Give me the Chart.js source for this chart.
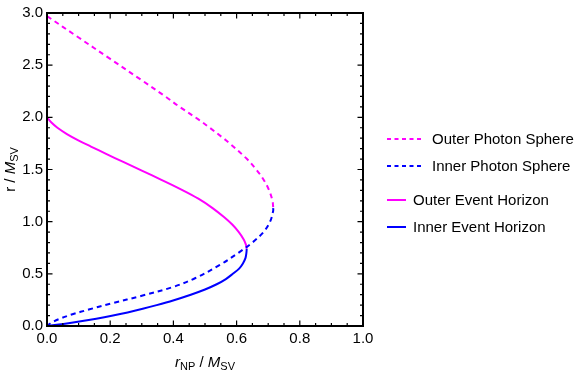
<!DOCTYPE html>
<html>
<head>
<meta charset="utf-8">
<script src="https://cdn.jsdelivr.net/npm/chart.js@4.4.0/dist/chart.umd.min.js"></script>
<style>
html,body{margin:0;padding:0;background:#fff;}
#wrap{width:581px;height:371px;position:relative;}
</style>
</head>
<body>
<div id="wrap"><canvas id="c" width="581" height="371"></canvas></div>
<script>
// ---- data ----
const seriesLabels = ['Outer Photon Sphere', 'Inner Photon Sphere', 'Outer Event Horizon', 'Inner Event Horizon'];

const outerPhotonRNP = [0, 0.1, 0.2, 0.3, 0.379, 0.42, 0.479, 0.515, 0.558, 0.578, 0.633, 0.662, 0.686, 0.703, 0.7135, 0.716];
const outerPhotonR   = [2.97, 2.765, 2.56, 2.355, 2.19, 2.1, 1.98, 1.9, 1.80, 1.75, 1.6, 1.5, 1.4, 1.3, 1.2, 1.13];

const innerPhotonRNP = [0.716, 0.7155, 0.706, 0.685, 0.65, 0.605, 0.547, 0.47, 0.4, 0.3, 0.205, 0.135, 0.078, 0.037, 0.013, 0];
const innerPhotonR   = [1.13, 1.1, 1.0, 0.9, 0.8, 0.7, 0.585, 0.46, 0.375, 0.29, 0.217, 0.16, 0.11, 0.065, 0.03, 0];

const outerHorizonRNP = [0, 0.014, 0.033, 0.063, 0.099, 0.139, 0.187, 0.243, 0.30, 0.362, 0.43, 0.479, 0.524, 0.560, 0.587, 0.607, 0.6225, 0.6295, 0.632];
const outerHorizonR   = [2.0, 1.95, 1.90, 1.84, 1.78, 1.72, 1.65, 1.57, 1.49, 1.40, 1.30, 1.22, 1.13, 1.044, 0.97, 0.90, 0.83, 0.78, 0.74];

const innerHorizonRNP = [0.632, 0.631, 0.628, 0.620, 0.608, 0.588, 0.566, 0.537, 0.50, 0.455, 0.399, 0.347, 0.303, 0.255, 0.205, 0.156, 0.107, 0.052, 0];
const innerHorizonR   = [0.74, 0.70, 0.65, 0.60, 0.55, 0.50, 0.45, 0.40, 0.35, 0.30, 0.245, 0.20, 0.165, 0.13, 0.098, 0.07, 0.045, 0.02, 0];

const xTicks = [0, 0.2, 0.4, 0.6, 0.8, 1.0];
const yTicks = [0, 0.5, 1.0, 1.5, 2.0, 2.5, 3.0];

const MAGENTA = '#ff00ff';
const BLUE = '#0000ff';
const FONT = "'Liberation Sans', Arial, sans-serif";

function zip(xs, ys) { return xs.map((x, i) => ({x: x, y: ys[i]})); }

const datasets = [
  {label: seriesLabels[0], data: zip(outerPhotonRNP, outerPhotonR), borderColor: MAGENTA, borderDash: [5, 4]},
  {label: seriesLabels[1], data: zip(innerPhotonRNP, innerPhotonR), borderColor: BLUE, borderDash: [5, 4]},
  {label: seriesLabels[2], data: zip(outerHorizonRNP, outerHorizonR), borderColor: MAGENTA, borderDash: []},
  {label: seriesLabels[3], data: zip(innerHorizonRNP, innerHorizonR), borderColor: BLUE, borderDash: []}
].map(d => Object.assign(d, {showLine: true, pointRadius: 0, borderWidth: 2, tension: 0.35, fill: false}));

const framePlugin = {
  id: 'framePlugin',
  afterDraw(chart) {
    const ctx = chart.ctx;
    const a = chart.chartArea;
    const xs = chart.scales.x, ys = chart.scales.y;
    ctx.save();
    ctx.strokeStyle = '#000';
    ctx.lineWidth = 1.2;
    const majorLen = 5.5, minorLen = 3;
    for (let i = 0; i <= 20; i++) {
      const p = xs.getPixelForValue(i * 0.05);
      const len = (i % 4 === 0) ? majorLen : minorLen;
      ctx.beginPath();
      ctx.moveTo(p, a.bottom); ctx.lineTo(p, a.bottom - len);
      ctx.moveTo(p, a.top); ctx.lineTo(p, a.top + len);
      ctx.stroke();
    }
    for (let i = 0; i <= 30; i++) {
      const p = ys.getPixelForValue(i * 0.1);
      const len = (i % 5 === 0) ? majorLen : minorLen;
      ctx.beginPath();
      ctx.moveTo(a.left, p); ctx.lineTo(a.left + len, p);
      ctx.moveTo(a.right, p); ctx.lineTo(a.right - len, p);
      ctx.stroke();
    }
    ctx.lineWidth = 2;
    ctx.strokeRect(a.left, a.top, a.right - a.left, a.bottom - a.top);

    function drawParts(parts, cx, baseline) {
      let w = 0;
      parts.forEach(p => { ctx.font = p.font; p.w = ctx.measureText(p.t).width; w += p.w; });
      let x = cx - w / 2;
      ctx.textBaseline = 'alphabetic';
      ctx.textAlign = 'left';
      parts.forEach(p => { ctx.font = p.font; ctx.fillText(p.t, x, baseline + (p.dy || 0)); x += p.w; });
    }
    ctx.fillStyle = '#000';
    const big = "15px " + FONT, ital = "italic 15px " + FONT, sub = "11px " + FONT;
    drawParts([
      {t: 'r', font: ital}, {t: 'NP', font: sub, dy: 3}, {t: ' / ', font: big},
      {t: 'M', font: ital}, {t: 'SV', font: sub, dy: 3}
    ], (a.left + a.right) / 2, 367);
    ctx.save();
    ctx.translate(15, (a.top + a.bottom) / 2);
    ctx.rotate(-Math.PI / 2);
    drawParts([
      {t: 'r', font: big}, {t: ' / ', font: big},
      {t: 'M', font: ital}, {t: 'SV', font: sub, dy: 3}
    ], 0, 0);
    ctx.restore();

    const legendY = [139, 166, 200, 227];
    ctx.font = "15px " + FONT;
    ctx.textBaseline = 'middle';
    chart.data.datasets.forEach((d, i) => {
      const dashed = d.borderDash && d.borderDash.length;
      const x0 = 387, x1 = dashed ? 422 : 406, tx = dashed ? 432 : 413;
      ctx.strokeStyle = d.borderColor;
      ctx.lineWidth = 2;
      ctx.setLineDash(dashed ? [4, 3.5] : []);
      ctx.beginPath(); ctx.moveTo(x0, legendY[i]); ctx.lineTo(x1, legendY[i]); ctx.stroke();
      ctx.setLineDash([]);
      ctx.fillStyle = '#000';
      ctx.fillText(d.label, tx, legendY[i] + 1);
    });
    ctx.restore();
  }
};

new Chart(document.getElementById('c'), {
  type: 'scatter',
  data: {datasets: datasets},
  options: {
    responsive: false,
    animation: false,
    devicePixelRatio: 1,
    layout: {padding: {left: 0, right: 218, top: 12, bottom: 0}},
    plugins: {legend: {display: false}, tooltip: {enabled: false}},
    scales: {
      x: {
        type: 'linear', min: 0, max: 1,
        afterBuildTicks: s => { s.ticks = xTicks.map(v => ({value: v})); },
        afterFit: s => { s.height = 45; },
        grid: {display: false, drawTicks: false},
        border: {display: false},
        ticks: {padding: 4, color: '#000', font: {family: FONT, size: 15}, callback: v => Number(v).toFixed(1), maxRotation: 0, autoSkip: false}
      },
      y: {
        type: 'linear', min: 0, max: 3,
        afterBuildTicks: s => { s.ticks = yTicks.map(v => ({value: v})); },
        afterFit: s => { s.width = 47; },
        grid: {display: false, drawTicks: false},
        border: {display: false},
        ticks: {padding: 4, color: '#000', font: {family: FONT, size: 15}, callback: v => Number(v).toFixed(1), autoSkip: false}
      }
    }
  },
  plugins: [framePlugin]
});
</script>
</body>
</html>
